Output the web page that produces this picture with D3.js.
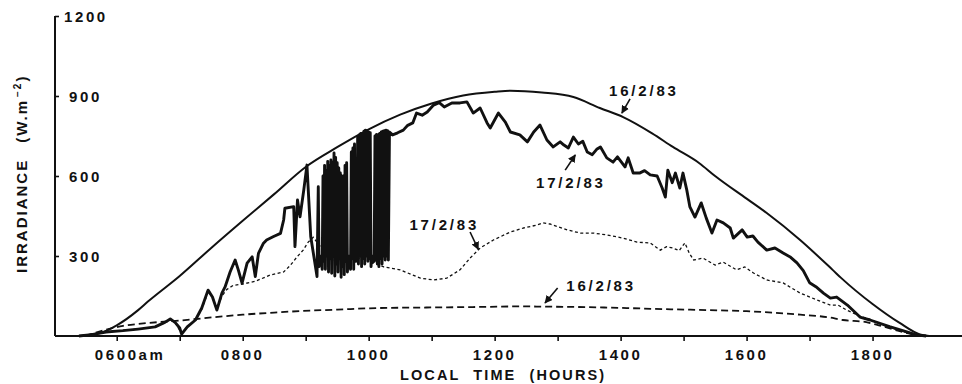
<!DOCTYPE html>
<html>
<head>
<meta charset="utf-8">
<script src="https://cdn.jsdelivr.net/npm/d3@7"></script>
<style>
  html, body { margin: 0; padding: 0; background: #fff; }
  svg { display: block; font-family: "Liberation Sans", Arial, Helvetica, sans-serif; font-weight: bold; }
</style>
</head>
<body>
<svg id="chart" width="962" height="384"></svg>
<script>
// 16/2/83 clear day, global (solid smooth)
const clearHours = [5.4, 5.75, 6.0, 6.34, 6.5, 7.0, 7.5, 8.0, 8.5, 9.0, 9.5, 10.0, 10.5, 11.0, 11.5, 12.0, 12.25, 12.75, 13.25, 13.67, 14.04, 14.5, 14.83, 15.25, 15.5, 16.0, 16.32, 16.85, 17.37, 17.5, 18.0, 18.43, 18.75, 18.9];
const clearGlobal = [0, 12, 40, 97, 130, 225, 330, 432, 532, 634, 708, 775, 830, 872, 902, 916, 920, 913, 896, 855, 821, 760, 709, 648, 600, 515, 461, 360, 247, 218, 120, 49, 6, 0];

// 16/2/83 clear day, diffuse (dashed)
const clearDiffHours = [5.5, 5.85, 6.1, 6.34, 6.88, 7.0, 7.56, 8.0, 8.5, 8.96, 9.5, 10.18, 11.0, 11.8, 12.4, 12.83, 13.5, 14.2, 14.8, 15.42, 16.0, 16.85, 17.3, 17.53, 17.9, 18.1, 18.4, 18.75];
const clearDiffuse = [0, 25, 38, 45, 56, 58, 71, 80, 88, 94, 99, 105, 107, 109, 111, 110, 108, 104, 100, 97, 93, 80, 70, 60, 52, 40, 20, 0];

// 17/2/83 cloudy day, global (solid noisy)
const cloudyHours = [
  5.40, 5.60, 5.83, 6.10, 6.34, 6.61, 6.77, 6.85, 6.93, 7.00, 7.03, 7.12, 7.25, 7.35, 7.45, 7.52, 7.59, 7.67, 7.72, 7.80,
  7.88, 7.93, 7.99, 8.07, 8.15, 8.20, 8.25, 8.33, 8.38, 8.49, 8.60, 8.65, 8.67, 8.81, 8.83, 8.87, 8.91, 8.97, 9.02, 9.08, 9.18,
  9.2000, 9.2125, 9.2250, 9.2375, 9.2500, 9.2625, 9.2750, 9.2875, 9.3000, 9.3125, 9.3250, 9.3375, 9.3500, 9.3625, 9.3750,
  9.3875, 9.4000, 9.4125, 9.4250, 9.4375, 9.4500, 9.4625, 9.4750, 9.4875, 9.5000, 9.5125, 9.5250, 9.5375, 9.5500, 9.5625,
  9.5750, 9.5875, 9.6000, 9.6125, 9.6250, 9.6375, 9.6500, 9.6625, 9.6750, 9.6875, 9.7000, 9.7125, 9.7250, 9.7375, 9.7500,
  9.7625, 9.7750, 9.7875, 9.8000, 9.8125, 9.8250, 9.8375, 9.8500, 9.8625, 9.8750, 9.8875, 9.9000, 9.9125, 9.9250, 9.9375,
  9.9500, 9.9625, 9.9750, 9.9875, 10.0000, 10.0125, 10.0250, 10.0375, 10.0500, 10.0625, 10.0750, 10.0875, 10.1000, 10.1125,
  10.1250, 10.1375, 10.1500, 10.1625, 10.1750, 10.1875, 10.2000, 10.2125, 10.2250, 10.2375, 10.2500, 10.2625, 10.2750,
  10.2875, 10.3000, 10.3125,
  10.33, 10.38, 10.46, 10.55, 10.62, 10.70, 10.76, 10.85, 10.93, 11.03, 11.12, 11.20, 11.32, 11.45, 11.56, 11.66, 11.77, 11.88, 11.93,
  12.06, 12.17, 12.25, 12.40, 12.52, 12.62, 12.72, 12.83, 12.93, 13.04, 13.10, 13.17, 13.25, 13.33, 13.40, 13.47, 13.55, 13.62, 13.68,
  13.78, 13.88, 13.95, 14.07, 14.12, 14.20, 14.30, 14.38, 14.47, 14.58, 14.66, 14.71, 14.75, 14.82, 14.87, 14.94, 14.99,
  15.05, 15.10, 15.18, 15.28, 15.36, 15.45, 15.53, 15.63, 15.74, 15.79, 15.93, 16.01, 16.10, 16.18, 16.32, 16.45,
  16.58, 16.70, 16.80, 16.90, 17.00, 17.10, 17.22, 17.33, 17.43, 17.60, 17.80, 17.96, 18.27, 18.70, 18.85
];
const cloudyGlobal = [
  0, 5, 15, 20, 26, 34, 52, 64, 50, 30, 7, 34, 60, 105, 172, 146, 97, 161, 184, 240,
  285, 248, 198, 273, 297, 223, 310, 348, 360, 373, 385, 435, 479, 485, 335, 510, 447, 548, 641, 373, 223,
  560, 260, 300, 270, 290, 250, 600, 280, 640, 250, 620, 300, 655, 240, 640,
  290, 660, 235, 650, 300, 686, 225, 670, 270, 650, 240, 630, 300, 611, 220,
  600, 260, 600, 230, 640, 280, 650, 240, 300, 260, 290, 250, 690, 290, 705,
  250, 720, 310, 280, 300, 745, 270, 754, 300, 760, 260, 760, 290, 768, 270,
  772, 300, 770, 280, 765, 290, 762, 260, 300, 275, 290, 280, 750, 285,
  756, 270, 754, 260, 760, 290, 765, 270, 768, 300, 770, 285, 772,
  300, 770, 285,
  765, 754, 762, 772, 790, 799, 836, 828, 840, 866, 875, 859, 874, 874, 878, 836, 855, 799, 780,
  836, 802, 765, 754, 728, 765, 791, 735, 709, 728, 716, 705, 746, 720, 730, 690, 680, 700, 709,
  668, 652, 672, 634, 668, 611, 611, 620, 604, 600, 555, 521, 622, 575, 611, 555, 611,
  548, 484, 446, 499, 442, 386, 435, 424, 405, 367, 398, 371, 375, 352, 322, 330,
  311, 295, 274, 245, 200, 185, 161, 142, 146, 116, 71, 60, 35, 4, 0
];

// 17/2/83 cloudy day, diffuse (fine dashes)
const cloudyDiffHours = [5.4, 5.83, 6.34, 6.61, 6.77, 6.85, 6.93, 7.03, 7.12, 7.25, 7.35, 7.45, 7.52, 7.59, 7.67, 7.75, 7.85, 8.0, 8.2, 8.44, 8.65, 8.76, 8.86, 8.96, 9.04, 9.12, 9.25, 9.4, 9.6, 9.8, 10.0, 10.1, 10.24, 10.5, 10.82, 11.03, 11.24, 11.45, 11.61, 11.77, 11.98, 12.25, 12.46, 12.67, 12.77, 12.88, 13.15, 13.36, 13.57, 13.78, 14.04, 14.26, 14.47, 14.63, 14.73, 14.83, 14.93, 15.02, 15.09, 15.16, 15.31, 15.5, 15.63, 15.84, 15.97, 16.11, 16.32, 16.58, 16.85, 17.12, 17.33, 17.45, 17.59, 17.8, 17.96, 18.2, 18.5, 18.75];
const cloudyDiffuse = [0, 15, 26, 34, 50, 60, 50, 8, 34, 60, 100, 165, 146, 100, 150, 175, 190, 195, 205, 229, 240, 266, 296, 322, 352, 370, 330, 300, 285, 290, 296, 274, 259, 248, 217, 210, 217, 248, 292, 330, 360, 390, 405, 416, 424, 420, 398, 386, 386, 379, 367, 352, 349, 322, 335, 330, 320, 349, 311, 285, 292, 266, 277, 248, 259, 236, 210, 199, 161, 135, 116, 116, 97, 75, 62, 38, 15, 0];

// axis ticks and labels
const tickHours = [6, 7, 8, 9, 10, 11, 12, 13, 14, 15, 16, 17, 18];
const labelHours = [6, 8, 10, 12, 14, 16, 18];
const labelMain = ["0600", "0800", "1000", "1200", "1400", "1600", "1800"];
const labelSuffix = ["am", "", "", "", "", "", ""];
const yTicks = [300, 600, 900, 1200];

// annotations
const noteText = ["16/2/83", "17/2/83", "17/2/83", "16/2/83"];
const noteHour = [14.37, 13.21, 11.2, 13.69];
const noteValue = [900, 555, 397, 169];
const arrowFromHour = [14.15, 13.12, 11.61, 13.0];
const arrowFromValue = [889, 622, 390, 180];
const arrowToHour = [14.02, 13.28, 11.74, 12.8];
const arrowToValue = [836, 679, 325, 124];

const ink = "#111";
const svg = d3.select("#chart");

const x = d3.scaleLinear().domain([5.02, 19.42]).range([55, 962]);
const y = d3.scaleLinear().domain([0, 1200]).range([336, 16]);

const zip = (hs, vs) => hs.map((h, i) => ({ h, v: vs[i] }));

const smooth = d3.line().x(d => x(d.h)).y(d => y(d.v)).curve(d3.curveMonotoneX);
const straight = d3.line().x(d => x(d.h)).y(d => y(d.v));

// series
svg.append("path")
  .attr("d", smooth(zip(clearDiffHours, clearDiffuse)))
  .attr("fill", "none").attr("stroke", ink).attr("stroke-width", 1.8)
  .attr("stroke-dasharray", "7,4");

svg.append("path")
  .attr("d", straight(zip(cloudyDiffHours, cloudyDiffuse)))
  .attr("fill", "none").attr("stroke", ink).attr("stroke-width", 1.3)
  .attr("stroke-dasharray", "3,2.5");

svg.append("path")
  .attr("d", smooth(zip(clearHours, clearGlobal)))
  .attr("fill", "none").attr("stroke", ink).attr("stroke-width", 2);

svg.append("path")
  .attr("d", straight(zip(cloudyHours, cloudyGlobal)))
  .attr("fill", "none").attr("stroke", ink).attr("stroke-width", 2.9)
  .attr("stroke-linejoin", "round");

// axes
const xAxis = svg.append("g")
  .attr("transform", `translate(0,${y(0)})`)
  .call(d3.axisBottom(x).tickValues(tickHours).tickSize(5).tickFormat(""));
xAxis.select(".domain").attr("stroke", ink).attr("stroke-width", 2).attr("d", `M55,0H962`);
xAxis.selectAll(".tick line").attr("stroke", ink).attr("stroke-width", 1.6);

const yAxis = svg.append("g")
  .attr("transform", `translate(${x(5.02)},0)`)
  .call(d3.axisRight(y).tickValues(yTicks).tickSize(4).tickFormat(""));
yAxis.select(".domain").attr("stroke", ink).attr("stroke-width", 2).attr("d", `M0,${y(1200)}V${y(0)}`);
yAxis.selectAll(".tick line").attr("stroke", ink).attr("stroke-width", 1.6);

// x tick labels (main part centred on the tick)
labelHours.forEach((h, i) => {
  const t = svg.append("text")
    .attr("x", x(h)).attr("y", 360)
    .attr("font-size", 15).attr("letter-spacing", 2.6)
    .attr("text-anchor", "middle").attr("fill", ink)
    .text(labelMain[i]);
  if (labelSuffix[i]) {
    const w = t.node().getComputedTextLength();
    svg.append("text")
      .attr("x", x(h) + w / 2).attr("y", 360)
      .attr("font-size", 15).attr("letter-spacing", 2.6)
      .attr("fill", ink)
      .text(labelSuffix[i]);
  }
});

// y tick labels
yTicks.forEach(v => {
  svg.append("text")
    .attr("x", v === 1200 ? 64 : 69).attr("y", y(v) + 5.5)
    .attr("font-size", 15).attr("letter-spacing", 2.6)
    .attr("fill", ink)
    .text(v);
});

// axis titles
svg.append("text")
  .attr("x", 400).attr("y", 380)
  .attr("font-size", 14.5).attr("letter-spacing", 2.1).attr("word-spacing", 7)
  .attr("fill", ink)
  .text("LOCAL TIME (HOURS)");

const yt = svg.append("text")
  .attr("transform", "translate(27,273) rotate(-90)")
  .attr("font-size", 15).attr("letter-spacing", 2)
  .attr("fill", ink);
yt.append("tspan").text("IRRADIANCE");
yt.append("tspan").attr("dx", 16).text("(W.m");
yt.append("tspan").attr("font-size", 10).attr("dy", -6).attr("dx", 2).text("\u22122");
yt.append("tspan").attr("dy", 6).text(")");

// annotations with arrows
svg.append("defs").append("marker")
  .attr("id", "head")
  .attr("viewBox", "0 0 10 10").attr("refX", 9).attr("refY", 5)
  .attr("markerWidth", 8).attr("markerHeight", 8)
  .attr("markerUnits", "userSpaceOnUse")
  .attr("orient", "auto")
  .append("path").attr("d", "M0,0L10,5L0,10Z").attr("fill", ink);

noteText.forEach((s, i) => {
  svg.append("text")
    .attr("x", x(noteHour[i])).attr("y", y(noteValue[i]))
    .attr("text-anchor", "middle")
    .attr("font-size", 15).attr("letter-spacing", 2.8)
    .attr("fill", ink)
    .text(s);
  svg.append("line")
    .attr("x1", x(arrowFromHour[i])).attr("y1", y(arrowFromValue[i]))
    .attr("x2", x(arrowToHour[i])).attr("y2", y(arrowToValue[i]))
    .attr("stroke", ink).attr("stroke-width", 1.6)
    .attr("marker-end", "url(#head)");
});
</script>
</body>
</html>
